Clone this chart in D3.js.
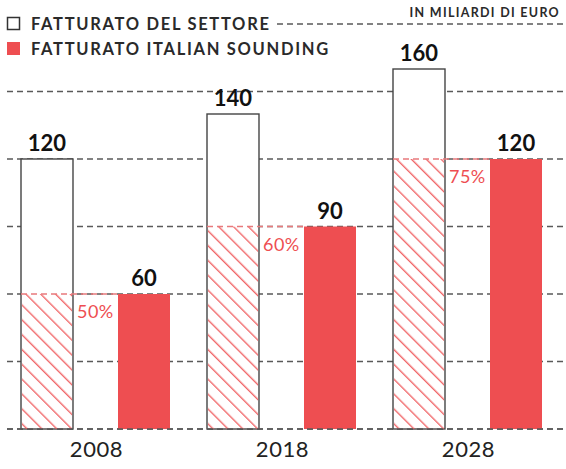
<html>
<head>
<style>
  body { margin: 0; background: #fff; }
  svg { display: block; font-family: Lato, "Open Sans", sans-serif; }
</style>
<script src="https://cdnjs.cloudflare.com/ajax/libs/d3/7.8.5/d3.min.js"></script>
</head>
<body>
<svg id="chart"></svg>
<script>
var years = ["2008", "2018", "2028"];
var sector = [120, 140, 160];
var sounding = [60, 90, 120];
var shares = ["50%", "60%", "75%"];
var ticks = [0, 30, 60, 90, 120, 150, 180];
var legendLabels = ["FATTURATO DEL SETTORE", "FATTURATO ITALIAN SOUNDING"];
var unitLabel = "IN MILIARDI DI EURO";

var W = 566, H = 469;
var red = "#ee4e51", ink = "#222", grid = "#5a5a5a";

var svg = d3.select("#chart").attr("width", W).attr("height", H);

var y = d3.scaleLinear().domain([0, 180]).range([429, 24]);
var x = d3.scaleBand().domain(years).range([21, 579]);
var xs = d3.scaleBand().domain(["sector", "sounding"]).range([0, 149]).paddingInner(0.464);
var bw = xs.bandwidth();

var defs = svg.append("defs");
defs.append("pattern")
    .attr("id", "hatch")
    .attr("patternUnits", "userSpaceOnUse")
    .attr("width", 10.5).attr("height", 10.5)
    .attr("patternTransform", "rotate(45)")
  .append("line")
    .attr("x1", 0).attr("y1", 5).attr("x2", 10.5).attr("y2", 5)
    .attr("stroke", red).attr("stroke-width", 1.2);

// gridlines
svg.append("g").selectAll("line").data(ticks).join("line")
    .attr("x1", 7).attr("x2", W)
    .attr("y1", d => y(d)).attr("y2", d => y(d))
    .attr("stroke", grid).attr("stroke-width", 1.4)
    .attr("stroke-dasharray", "6,4");

var g = svg.append("g").selectAll("g").data(years).join("g")
    .attr("transform", d => "translate(" + x(d) + ",0)");

// sector bars (outlined)
g.append("rect")
    .attr("x", xs("sector")).attr("width", bw)
    .attr("y", (d, i) => y(sector[i]))
    .attr("height", (d, i) => y(0) - y(sector[i]))
    .attr("fill", "#fff").attr("stroke", "#444").attr("stroke-width", 1.4);

// hatched share
g.append("rect")
    .attr("x", xs("sector") + 1).attr("width", bw - 2)
    .attr("y", (d, i) => y(sounding[i]))
    .attr("height", (d, i) => y(0) - y(sounding[i]))
    .attr("fill", "url(#hatch)");

g.append("line")
    .attr("x1", xs("sector")).attr("x2", xs("sounding"))
    .attr("y1", (d, i) => y(sounding[i])).attr("y2", (d, i) => y(sounding[i]))
    .attr("stroke", "#e77a7c").attr("stroke-width", 1.4)
    .attr("stroke-dasharray", "6,4");

// sounding bars
g.append("rect")
    .attr("x", xs("sounding")).attr("width", bw)
    .attr("y", (d, i) => y(sounding[i]))
    .attr("height", (d, i) => y(0) - y(sounding[i]))
    .attr("fill", red);

// value labels
g.append("text")
    .attr("x", xs("sector") + bw / 2)
    .attr("y", (d, i) => y(sector[i]) - 8)
    .attr("text-anchor", "middle")
    .attr("font-size", 22).attr("font-weight", 700).attr("fill", "#111")
    .text((d, i) => sector[i]);

g.append("text")
    .attr("x", xs("sounding") + bw / 2)
    .attr("y", (d, i) => y(sounding[i]) - 8)
    .attr("text-anchor", "middle")
    .attr("font-size", 22).attr("font-weight", 700).attr("fill", "#111")
    .text((d, i) => sounding[i]);

g.append("text")
    .attr("x", xs("sector") + bw + 4)
    .attr("y", (d, i) => y(sounding[i]) + 24)
    .attr("font-size", 18).attr("fill", red)
    .attr("letter-spacing", 0.5)
    .text((d, i) => shares[i]);

// baseline on top
svg.append("line")
    .attr("x1", 7).attr("x2", W).attr("y1", y(0)).attr("y2", y(0))
    .attr("stroke", grid).attr("stroke-width", 1.4)
    .attr("stroke-dasharray", "6,4");

// year axis
g.append("text")
    .attr("x", 149 / 2 + 1)
    .attr("y", 457)
    .attr("text-anchor", "middle")
    .attr("font-size", 22).attr("fill", ink)
    .attr("letter-spacing", 0.6)
    .text(d => d);

// legend
var leg = svg.append("g");
leg.append("rect").attr("x", 0).attr("y", 8).attr("width", 277).attr("height", 26).attr("fill", "#fff");
leg.append("rect").attr("x", 7.5).attr("y", 17.5).attr("width", 12).attr("height", 12)
    .attr("fill", "#fff").attr("stroke", "#333").attr("stroke-width", 1.5);
leg.append("rect").attr("x", 7).attr("y", 42).attr("width", 13).attr("height", 13).attr("fill", red);
leg.selectAll("text.l").data(legendLabels).join("text")
    .attr("class", "l")
    .attr("x", 31).attr("y", (d, i) => 30 + i * 25)
    .attr("font-size", 16.5).attr("font-weight", 700).attr("fill", "#2a2a2a")
    .attr("letter-spacing", 1.7)
    .text(d => d);

svg.append("text")
    .attr("x", 560).attr("y", 17)
    .attr("text-anchor", "end")
    .attr("font-size", 12.5).attr("font-weight", 700).attr("fill", "#2a2a2a")
    .attr("letter-spacing", 1.3)
    .text(unitLabel);
</script>
</body>
</html>
